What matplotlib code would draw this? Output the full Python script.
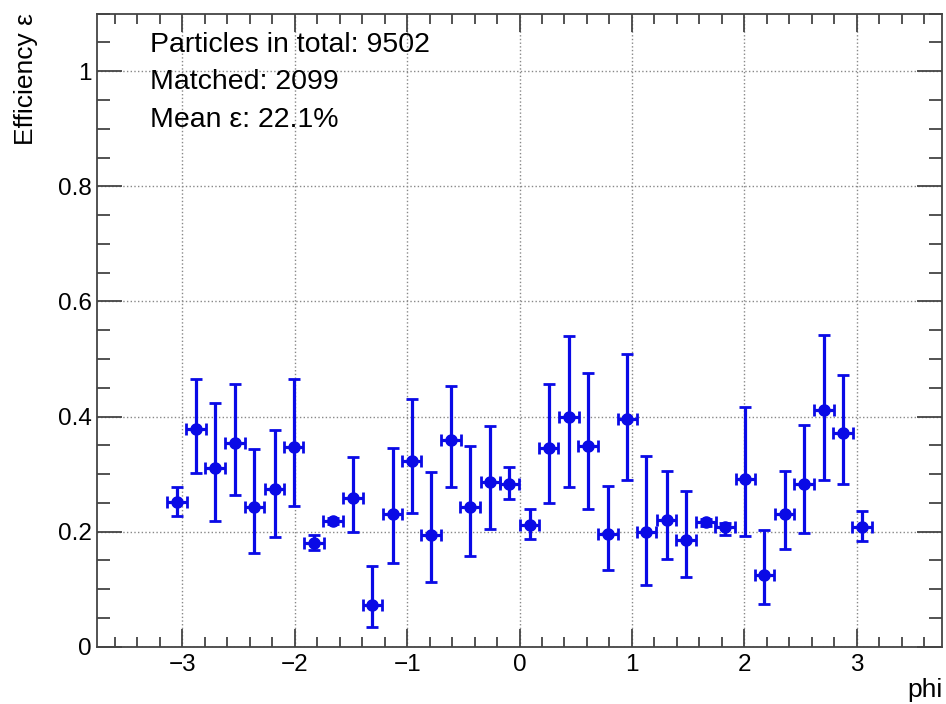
import numpy as np
import matplotlib
matplotlib.use('Agg')
import matplotlib.pyplot as plt
from matplotlib.ticker import MultipleLocator

# Efficiency vs phi.
phi = [-3.05, -2.88, -2.71, -2.53, -2.36, -2.18, -2.01, -1.83, -1.66, -1.48,
       -1.31, -1.13, -0.96, -0.79, -0.61, -0.44, -0.26, -0.09, 0.09, 0.26,
       0.44, 0.61, 0.79, 0.96, 1.13, 1.31, 1.48, 1.66, 1.83, 2.01,
       2.18, 2.36, 2.53, 2.71, 2.88, 3.05]
phi_halfwidth = 0.087

eff = [0.251, 0.378, 0.310, 0.354, 0.243, 0.274, 0.347, 0.181, 0.218, 0.259,
       0.072, 0.231, 0.323, 0.194, 0.359, 0.242, 0.286, 0.282, 0.212, 0.345,
       0.400, 0.349, 0.195, 0.395, 0.200, 0.220, 0.186, 0.216, 0.208, 0.292,
       0.125, 0.231, 0.282, 0.411, 0.372, 0.208]
eff_up = [0.277, 0.466, 0.423, 0.456, 0.343, 0.376, 0.466, 0.194, 0.223, 0.330,
          0.141, 0.345, 0.430, 0.304, 0.453, 0.348, 0.383, 0.312, 0.239, 0.457,
          0.540, 0.476, 0.279, 0.509, 0.332, 0.305, 0.270, 0.222, 0.215, 0.417,
          0.202, 0.306, 0.385, 0.541, 0.472, 0.236]
eff_lo = [0.227, 0.301, 0.219, 0.264, 0.163, 0.190, 0.244, 0.168, 0.213, 0.199,
          0.034, 0.145, 0.233, 0.113, 0.277, 0.157, 0.204, 0.256, 0.188, 0.250,
          0.277, 0.239, 0.133, 0.290, 0.108, 0.153, 0.121, 0.210, 0.194, 0.192,
          0.074, 0.169, 0.197, 0.290, 0.282, 0.183]

n_total = 9502
n_matched = 2099
mean_eff = 22.1

eff = np.array(eff)
yerr = [eff - np.array(eff_lo), np.array(eff_up) - eff]

plt.rcParams['font.family'] = ['Liberation Sans', 'DejaVu Sans']
plt.rcParams['font.size'] = 17.5

fig = plt.figure(figsize=(9.46, 7.04), dpi=100)
ax = fig.add_axes([97/946, 1 - 646.7/704, 845/946, 633/704])

ax.errorbar(phi, eff, xerr=phi_halfwidth, yerr=yerr, fmt='o', color='#0a0ae6',
            markersize=8, elinewidth=2.3, capsize=4, capthick=2)

ax.set_xlim(-3.76, 3.76)
ax.set_ylim(0, 1.1)
ax.xaxis.set_major_locator(MultipleLocator(1))
ax.xaxis.set_minor_locator(MultipleLocator(0.2))
ax.yaxis.set_major_locator(MultipleLocator(0.2))
ax.yaxis.set_minor_locator(MultipleLocator(0.05))
ax.yaxis.set_major_formatter(plt.FuncFormatter(lambda v, p: '0' if v == 0 else ('1' if abs(v - 1) < 1e-9 else '%.1f' % v)))

ax.tick_params(which='both', direction='in', top=True, right=True, width=1.3, color='#444444')
ax.tick_params(axis='x', which='major', length=13, pad=5)
ax.tick_params(axis='x', which='minor', length=7.5)
ax.tick_params(axis='y', which='major', length=18, pad=4)
ax.tick_params(axis='y', which='minor', length=9.5)
for s in ax.spines.values():
    s.set_linewidth(1.3)
    s.set_color('#444444')

ax.grid(True, which='major', linestyle=':', color='#888888', linewidth=1.0)
ax.set_axisbelow(True)

# Summary box text (no frame, as in ROOT TPaveText with no border)
ax.text(0.063, 0.940, 'Particles in total: %d' % n_total, transform=ax.transAxes,
        va='baseline', fontsize=20.5)
ax.text(0.063, 0.881, 'Matched: %d' % n_matched, transform=ax.transAxes,
        va='baseline', fontsize=20.5)
ax.text(0.063, 0.8205, 'Mean \u03b5: %.1f%%' % mean_eff, transform=ax.transAxes,
        va='baseline', fontsize=20.5)

fig.text(26/946, 1 - 13/704, 'Efficiency \u03b5', rotation=90, ha='center', va='top', fontsize=19)
fig.text(943/946, 1 - 697/704, 'phi', ha='right', va='baseline', fontsize=19)

fig.savefig('out.png', dpi=100)
